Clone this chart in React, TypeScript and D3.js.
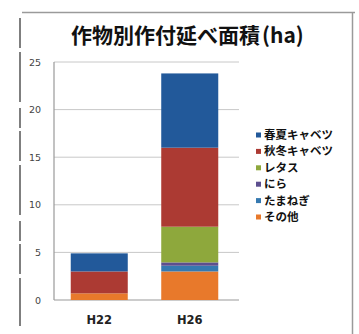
import React from "react";
import * as d3 from "d3";

const categories = ["H22", "H26"];
const seriesNames = ["その他", "たまねぎ", "にら", "レタス", "秋冬キャベツ", "春夏キャベツ"];
const sonota = [0.7, 3.0];
const tamanegi = [0, 0.6];
const nira = [0, 0.35];
const retasu = [0, 3.75];
const shuutou = [2.3, 8.3];
const shunka = [1.9, 7.8];
const yTicks = [0, 5, 10, 15, 20, 25];
const colors = ["#e8792b", "#3579b0", "#5d4f8f", "#8ea83c", "#ac3a33", "#22599a"];

const seriesValues = [sonota, tamanegi, nira, retasu, shuutou, shunka];

export default function App() {
  const W = 359, H = 334;
  const x = d3.scaleBand().domain(categories).range([54, 235]).paddingInner(0.37).paddingOuter(0.185);
  const y = d3.scaleLinear().domain([0, 25]).range([300, 62]);
  const rows = categories.map((c, i) => {
    const r: any = { cat: c };
    seriesNames.forEach((s, k) => (r[s] = seriesValues[k][i]));
    return r;
  });
  const stacked = d3.stack().keys(seriesNames)(rows);
  const jp = "'Noto Sans CJK JP', sans-serif";
  const legendOrder = [...seriesNames].reverse();
  return (
    <svg width={W} height={H} style={{ position: "absolute", left: 0, top: 0, background: "#fff" }}>
      <rect x={0} y={0} width={W} height={H} fill="#fff" />
      {/* frame */}
      <line x1={22} x2={355} y1={12.5} y2={12.5} stroke="#9a9a9a" strokeWidth={1.5} />
      <line x1={352.5} x2={352.5} y1={12} y2={334} stroke="#9a9a9a" strokeWidth={1.5} />
      <line x1={20} x2={20} y1={18} y2={326} stroke="#555" strokeWidth={1.5} strokeDasharray="30 4 50 6 20 3" />
      <text x={71} y={43} textAnchor="start" fontFamily={jp} fontWeight={700} fontSize={21} fill="#111">
        作物別作付延べ面積<tspan dx={2}>(ha)</tspan>
      </text>
      {/* grid */}
      {yTicks.map((t) => (
        <g key={t}>
          {t > 0 && <line x1={54} x2={239} y1={y(t)} y2={y(t)} stroke="#c8c8c8" strokeWidth={1} />}
          <text x={41} y={y(t) + 3.5} textAnchor="end" fontFamily="'DejaVu Sans', sans-serif" fontSize={9.5} fill="#444">
            {t}
          </text>
        </g>
      ))}
      <line x1={54} x2={54} y1={62} y2={300} stroke="#999" strokeWidth={1.2} />
      <line x1={54} x2={239} y1={300} y2={300} stroke="#999" strokeWidth={1.2} />
      {stacked.map((s, k) => (
        <g key={k} fill={colors[k]}>
          {s.map((d, i) => (
            <rect key={i} x={x(categories[i])} width={x.bandwidth()} y={y(d[1])} height={Math.max(0, y(d[0]) - y(d[1]))} />
          ))}
        </g>
      ))}
      {categories.map((c) => (
        <text key={c} x={(x(c) as number) + x.bandwidth() / 2} y={324} textAnchor="middle" fontFamily="'DejaVu Sans', sans-serif" fontWeight={700} fontSize={11.5} fill="#222">
          {c}
        </text>
      ))}
      {legendOrder.map((s, i) => {
        const k = seriesNames.indexOf(s);
        const cy = 135 + i * 16.4;
        return (
          <g key={s}>
            <rect x={256} y={cy - 2.5} width={5} height={5} fill={colors[k]} />
            <text x={264} y={cy + 4} fontFamily={jp} fontWeight={700} fontSize={11.5} fill="#111">
              {s}
            </text>
          </g>
        );
      })}
    </svg>
  );
}
